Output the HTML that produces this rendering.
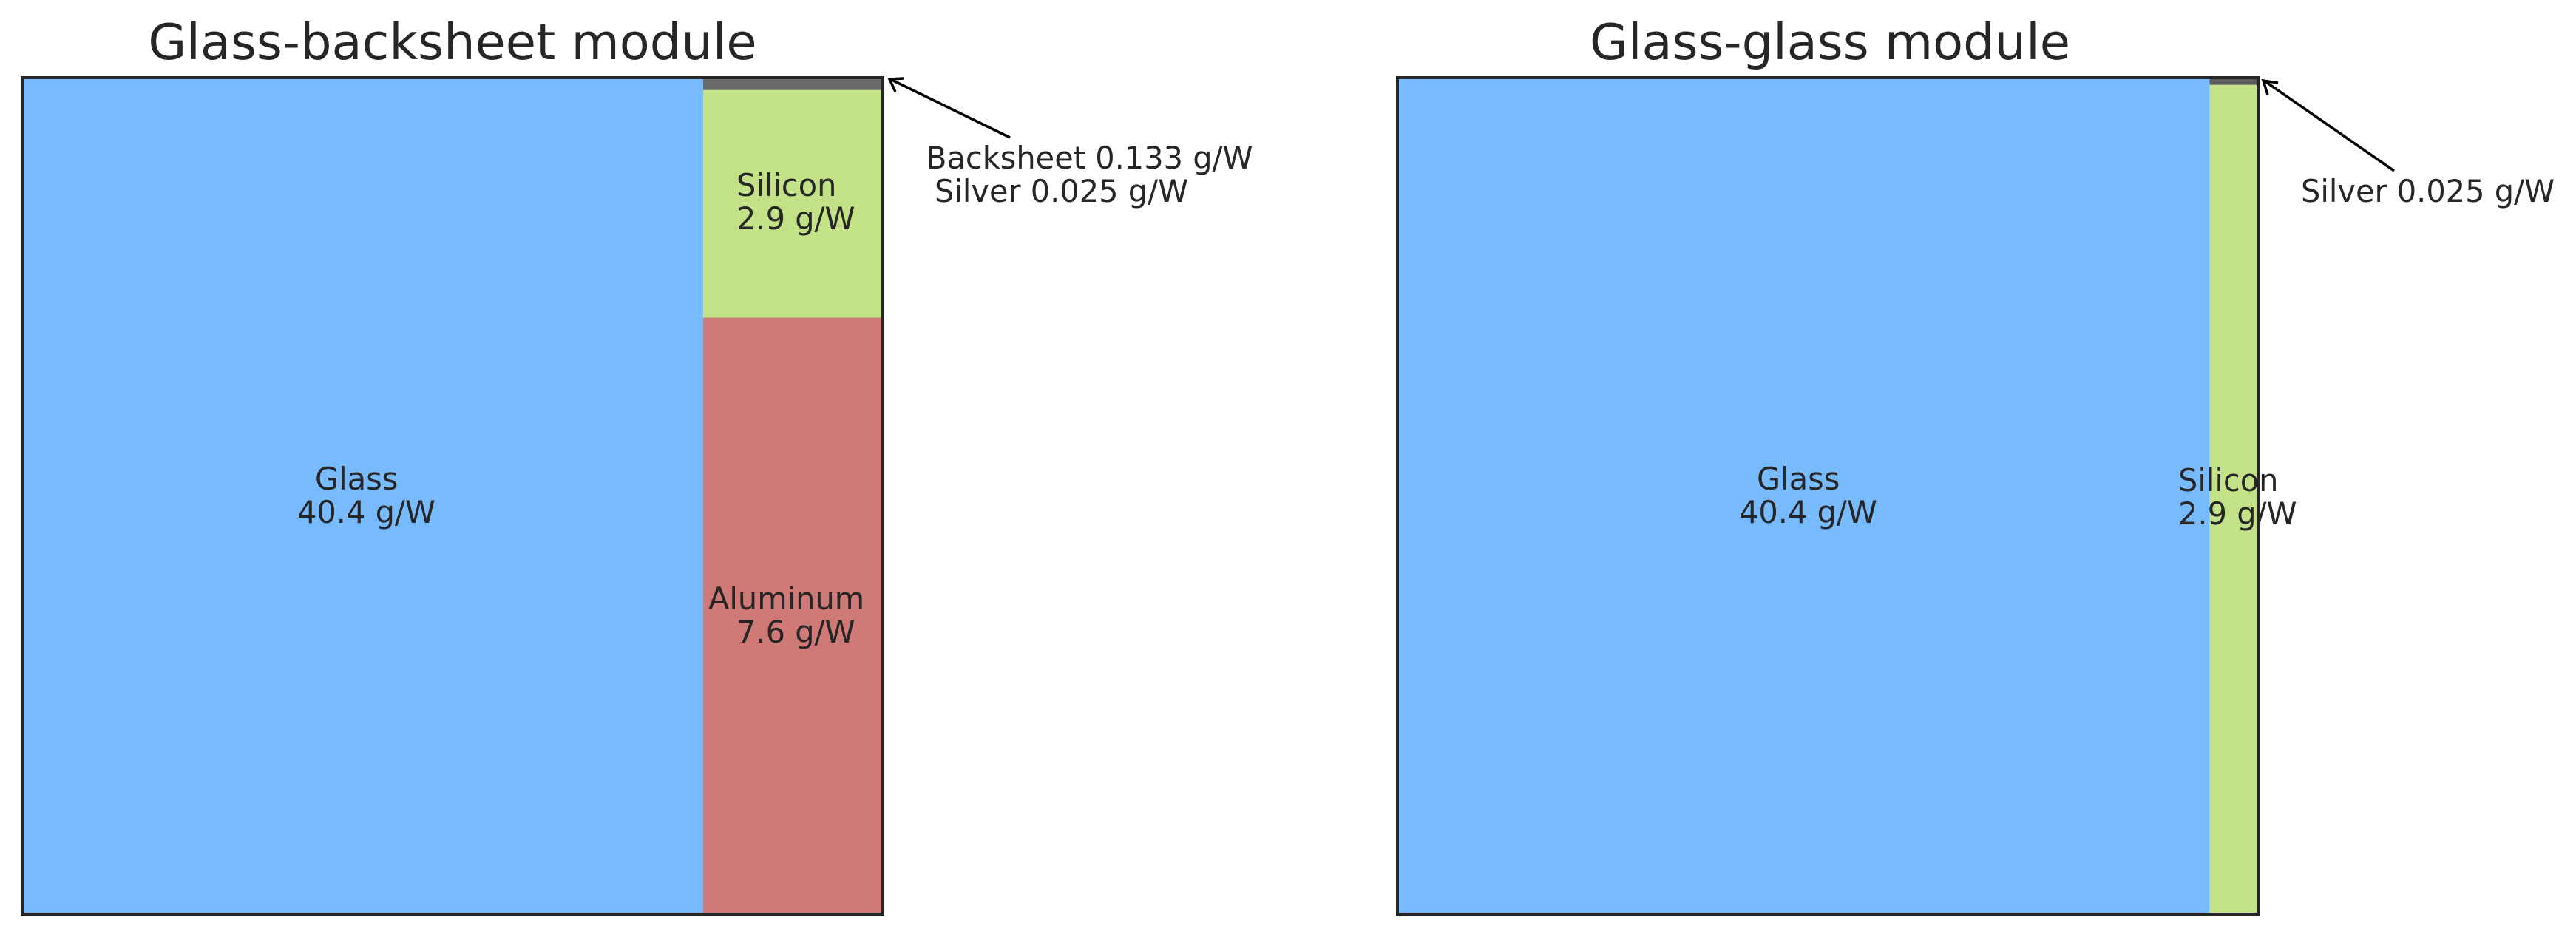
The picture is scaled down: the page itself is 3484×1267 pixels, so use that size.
<!DOCTYPE html>
<html><head><meta charset="utf-8"><style>
html,body{margin:0;padding:0;background:#fff}
svg{display:block}
text{font-family:"DejaVu Sans","Liberation Sans",sans-serif;fill:#262626}
</style></head><body>
<svg id="chart" width="3484" height="1267" viewBox="0 0 3484 1267" xmlns="http://www.w3.org/2000/svg">
<g id="p1"></g>
<g id="p2"></g>
<text x="612" y="80" font-size="67" text-anchor="middle">Glass-backsheet module</text>
<text x="2475" y="80" font-size="67" text-anchor="middle">Glass-glass module</text>

<text font-size="41.5"><tspan x="426" y="662">Glass</tspan><tspan x="402" y="707">40.4 g/W</tspan></text>
<text font-size="41.5"><tspan x="996" y="265">Silicon</tspan><tspan x="996" y="310">2.9 g/W</tspan></text>
<text font-size="41.5"><tspan x="958" y="824">Aluminum</tspan><tspan x="996" y="869">7.6 g/W</tspan></text>
<text font-size="41.5"><tspan x="1252" y="228">Backsheet 0.133 g/W</tspan><tspan x="1264" y="273">Silver 0.025 g/W</tspan></text>
<g stroke="#000" stroke-width="3.5" fill="none">
<line x1="1366" y1="186" x2="1204" y2="107"/>
<path d="M1211,124 L1203,107 L1222,106"/>
</g>

<text font-size="41.5"><tspan x="2376" y="662">Glass</tspan><tspan x="2352" y="707">40.4 g/W</tspan></text>
<text font-size="41.5"><tspan x="2946" y="664">Silicon</tspan><tspan x="2946" y="709">2.9 g/W</tspan></text>
<text x="3112" y="273" font-size="41.5">Silver 0.025 g/W</text>
<g stroke="#000" stroke-width="3.5" fill="none">
<line x1="3238" y1="231" x2="3062" y2="109"/>
<path d="M3067,128 L3061,109 L3081,112"/>
</g>
</svg>
<script>
const bsNames=["Glass","Aluminum","Silicon","Backsheet","Silver"];
const bsValues=[40.4,7.6,2.9,0.133,0.025];
const ggNames=["Glass","Silicon","Silver"];
const ggValues=[40.4,2.9,0.025];
const colors={Glass:"#78BAFE",Aluminum:"#CF7A77",Silicon:"#C3E186",Backsheet:"#696969",Silver:"#5a5a5a"};
const NS="http://www.w3.org/2000/svg";
function rect(g,x,y,w,h,fill,name){
  const r=document.createElementNS(NS,"rect");
  r.setAttribute("x",x);r.setAttribute("y",y);r.setAttribute("width",w);r.setAttribute("height",h);
  r.setAttribute("fill",fill);
  
  
  g.appendChild(r);
}
function draw(id,names,vals,x0,y0,x1,y1,adj){
  const g=document.getElementById(id);
  const total=vals.reduce((a,b)=>a+b,0);
  const W=x1-x0,H=y1-y0;
  const gw=Math.min(W,W*vals[0]/total*adj);
  rect(g,x0,y0,gw,H,colors[names[0]],"tile-"+names[0].toLowerCase());
  const rest=total-vals[0];
  let y=y1;
  for(let i=1;i<vals.length;i++){
    const h=H*vals[i]/rest;
    rect(g,x0+gw,y-h,W-gw,h,colors[names[i]],"tile-"+names[i].toLowerCase());
    y-=h;
  }
  const f=document.createElementNS(NS,"rect");
  f.setAttribute("x",x0);f.setAttribute("y",y0);f.setAttribute("width",W);f.setAttribute("height",H);
  f.setAttribute("fill","none");f.setAttribute("stroke","#262626");f.setAttribute("stroke-width","4");
  
  
  g.appendChild(f);
}
draw("p1",bsNames,bsValues,30,105,1194,1236,1);
draw("p2",ggNames,ggValues,1890,105,3054,1236,1.012);
</script>
</body></html>
